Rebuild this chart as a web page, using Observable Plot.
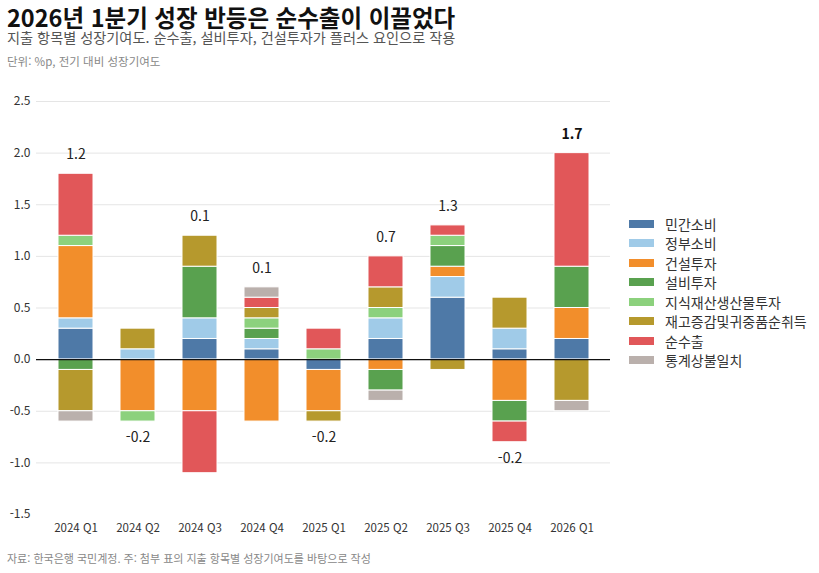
<!DOCTYPE html>
<html lang="ko">
<head>
<meta charset="utf-8">
<script src="https://cdn.jsdelivr.net/npm/d3@7"></script>
<script src="https://cdn.jsdelivr.net/npm/@observablehq/plot@0.6"></script>
<style>
  html, body { margin: 0; padding: 0; background: #fff; }
  body { font-family: "Noto Sans CJK KR", "Noto Sans", sans-serif; }
  #wrap { position: relative; width: 819px; height: 573px; overflow: hidden; }
  .title { position: absolute; left: 7px; top: 5px; font-size: 23.5px; line-height: 24px; font-weight: 700; color: #111; white-space: nowrap; }
  .subtitle { position: absolute; left: 7px; top: 29px; font-size: 14.2px; line-height: 16px; color: #555; white-space: nowrap; }
  .unit { position: absolute; left: 7px; top: 54px; font-size: 11.5px; line-height: 14px; color: #888; white-space: nowrap; }
  .caption { position: absolute; left: 7px; top: 551px; font-size: 11px; line-height: 14px; color: #888; white-space: nowrap; }
  #chart { position: absolute; left: 0; top: 80px; }
  #legend { position: absolute; left: 629px; top: 214px; }
  .item { display: flex; align-items: center; height: 19.5px; font-size: 14px; color: #333; white-space: nowrap; }
  .sw { width: 25px; height: 8px; margin-right: 11px; }
</style>
</head>
<body>
<div id="wrap">
  <div class="title">2026년 1분기 성장 반등은 순수출이 이끌었다</div>
  <div class="subtitle">지출 항목별 성장기여도. 순수출, 설비투자, 건설투자가 플러스 요인으로 작용</div>
  <div class="unit">단위: %p, 전기 대비 성장기여도</div>
  <div id="chart"></div>
  <div id="legend"></div>
  <div class="caption">자료: 한국은행 국민계정. 주: 첨부 표의 지출 항목별 성장기여도를 바탕으로 작성</div>
</div>
<script>
// Quarters on the x axis
const quarters = ["2024 Q1", "2024 Q2", "2024 Q3", "2024 Q4", "2025 Q1", "2025 Q2", "2025 Q3", "2025 Q4", "2026 Q1"];

// Expenditure components (legend / stacking order)
const components = ["민간소비", "정부소비", "건설투자", "설비투자", "지식재산생산물투자", "재고증감및귀중품순취득", "순수출", "통계상불일치"];
const colors = ["#4e79a7", "#a0cbe8", "#f28e2b", "#59a14f", "#8cd17d", "#b6992d", "#e15759", "#bab0ac"];

// Contribution to q/q growth, %p, per component
const privateConsumption = [0.3, 0.0, 0.2, 0.1, -0.1, 0.2, 0.6, 0.1, 0.2];
const governmentConsumption = [0.1, 0.1, 0.2, 0.1, 0.0, 0.2, 0.2, 0.2, 0.0];
const construction = [0.7, -0.5, -0.5, -0.6, -0.4, -0.1, 0.1, -0.4, 0.3];
const equipment = [-0.1, 0.0, 0.5, 0.1, 0.0, -0.2, 0.2, -0.2, 0.4];
const intellectualProperty = [0.1, -0.1, 0.0, 0.1, 0.1, 0.1, 0.1, 0.0, 0.0];
const inventories = [-0.4, 0.2, 0.3, 0.1, -0.1, 0.2, -0.1, 0.3, -0.4];
const netExports = [0.6, 0.0, -0.6, 0.1, 0.2, 0.3, 0.1, -0.2, 1.1];
const discrepancy = [-0.1, 0.0, 0.0, 0.1, 0.0, -0.1, 0.0, 0.0, -0.1];

// Real GDP growth (q/q, %) shown above/below each bar
const gdpGrowth = [1.2, -0.2, 0.1, 0.1, -0.2, 0.7, 1.3, -0.2, 1.7];

// Y axis ticks
const yTicks = [-1.5, -1.0, -0.5, 0.0, 0.5, 1.0, 1.5, 2.0, 2.5];

const seriesValues = [privateConsumption, governmentConsumption, construction, equipment,
  intellectualProperty, inventories, netExports, discrepancy];

const rows = [];
quarters.forEach((q, i) => {
  components.forEach((c, j) => {
    rows.push({quarter: q, component: c, value: seriesValues[j][i]});
  });
});

// Label anchor: top of positive stack for growth, bottom of negative stack for contraction
const labels = quarters.map((q, i) => {
  const vals = seriesValues.map(s => s[i]);
  const pos = d3.sum(vals.filter(v => v > 0));
  const neg = d3.sum(vals.filter(v => v < 0));
  const g = gdpGrowth[i];
  return {quarter: q, growth: g, y: g >= 0 ? pos : neg, up: g >= 0, last: i === quarters.length - 1};
});

// One decimal, plain hyphen for negatives
const fmt = v => (Math.abs(v) < 1e-9 ? 0 : v).toFixed(1);

const chart = Plot.plot({
  width: 819,
  height: 460,
  marginLeft: 36,
  marginRight: 209,
  marginTop: 21,
  marginBottom: 26,
  style: {fontFamily: '"Noto Sans CJK KR", "Noto Sans", sans-serif', background: "white", color: "#333"},
  x: {domain: quarters, paddingInner: 0.44, paddingOuter: 0.31, label: null},
  y: {domain: [-1.5, 2.5], label: null},
  color: {domain: components, range: colors},
  marks: [
    Plot.gridY(yTicks.filter(t => t > -1.5), {stroke: "#e5e5e5", strokeOpacity: 1, strokeWidth: 1}),
    Plot.axisY({ticks: yTicks, tickFormat: fmt, tickSize: 0, tickPadding: 6, fontSize: 12, fill: "#333", label: null}),
    Plot.axisX({tickSize: 0, tickPadding: 9, fontSize: 11.5, fill: "#333", label: null}),
    Plot.barY(rows.filter(d => d.value !== 0), Plot.stackY({
      x: "quarter", y: "value", fill: "component", z: "component",
      stroke: "white", strokeWidth: 1
    })),
    Plot.ruleY([0], {stroke: "#111", strokeWidth: 1.3}),
    Plot.text(labels.filter(d => d.up && !d.last), {
      x: "quarter", y: "y", text: d => fmt(d.growth),
      dy: -19, fontSize: 14, fill: "#222"
    }),
    Plot.text(labels.filter(d => !d.up), {
      x: "quarter", y: "y", text: d => fmt(d.growth),
      dy: 16, fontSize: 14, fill: "#222"
    }),
    Plot.text(labels.filter(d => d.last), {
      x: "quarter", y: "y", text: d => fmt(d.growth),
      dy: -19, fontSize: 14, fontWeight: "bold", fill: "#111"
    })
  ]
});

document.getElementById("chart").appendChild(chart);

// Legend
const legend = document.getElementById("legend");
components.forEach((c, j) => {
  const item = document.createElement("div");
  item.className = "item";
  const sw = document.createElement("span");
  sw.className = "sw";
  sw.style.background = colors[j];
  const label = document.createElement("span");
  label.textContent = c;
  item.appendChild(sw);
  item.appendChild(label);
  legend.appendChild(item);
});
</script>
</body>
</html>
